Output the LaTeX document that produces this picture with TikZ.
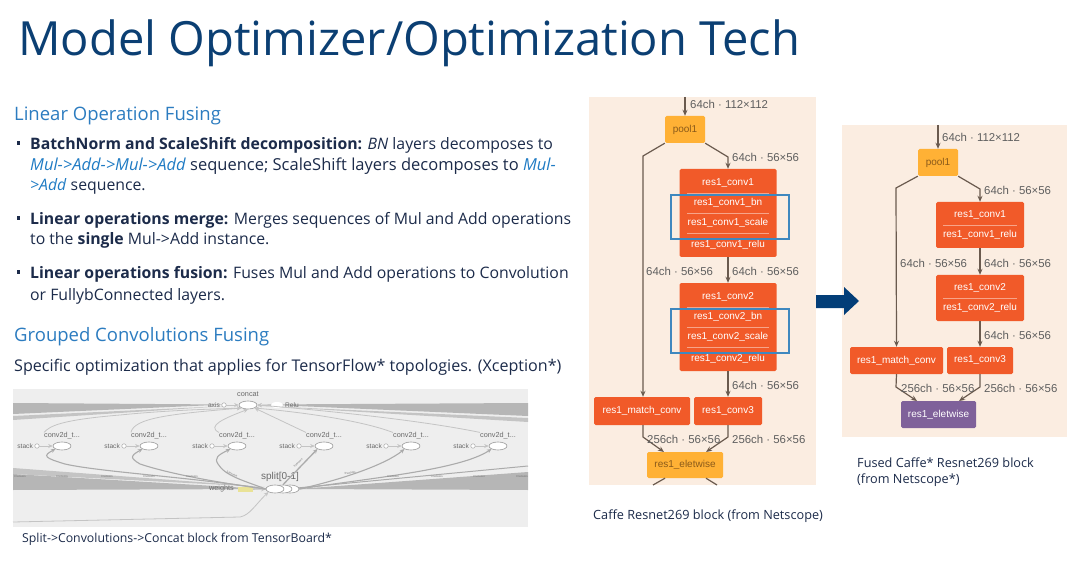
\documentclass[tikz,border=0pt]{standalone}
\usepackage{fontspec}
\setmainfont{Open Sans}
\newfontfamily\chartfont{Liberation Sans}
\usetikzlibrary{shapes.geometric, arrows.meta}
\tikzset{
    bodyText/.style={anchor=base west, inner sep=0pt, text=bodyColour, font=\fontsize{15.8}{18}\selectfont},
    headText/.style={anchor=base west, inner sep=0pt, text=headColour, font=\fontsize{18.5}{20}\selectfont},
    capText/.style={anchor=base west, inner sep=0pt, text=bodyColour, font=\fontsize{12.7}{14}\selectfont},
    bulletMark/.style={fill=bodyColour, inner sep=0pt, minimum size=3.5pt},
    redBlock/.style={rectangle, rounded corners=1.5pt, fill=redColour, inner sep=0pt},
    amberBlock/.style={rectangle, rounded corners=1.5pt, fill=amberColour, inner sep=0pt},
    purpleBlock/.style={rectangle, rounded corners=1.5pt, fill=purpleColour, inner sep=0pt},
    blockText/.style={inner sep=0pt, text=white, font=\chartfont\fontsize{10}{12}\selectfont},
    darkText/.style={inner sep=0pt, text=amberTextColour, font=\chartfont\fontsize{10}{12}\selectfont},
    edgeText/.style={anchor=west, inner sep=0pt, text=edgeTextColour, font=\chartfont\fontsize{11.4}{13}\selectfont},
    flow/.style={draw=flowColour, line width=1.2pt, ->, >={Stealth[length=6pt,width=5pt]}},
    flowEnd/.style={draw=flowColour, line width=1.2pt},
    divider/.style={draw=white!45!redColour, line width=0.5pt},
    blueBox/.style={draw=boxColour, line width=1.1pt, fill=none},
    tfOval/.style={ellipse, draw=tfLine, fill=white, line width=0.6pt, inner sep=0pt, minimum width=18pt, minimum height=8pt},
    tfDot/.style={circle, draw=tfLine, fill=white, line width=0.4pt, inner sep=0pt, minimum size=4.5pt},
    tfText/.style={inner sep=0pt, text=tfText, font=\chartfont\fontsize{7.3}{8}\selectfont},
    tfSide/.style={inner sep=0pt, text=tfText, font=\chartfont\fontsize{6.6}{8}\selectfont},
    tfSmall/.style={inner sep=0pt, text=tfText, font=\chartfont\fontsize{2.8}{3}\selectfont},
    tfCurve/.style={draw=tfCurveColour, line width=1.1pt, ->, >={Stealth[length=4.5pt,width=4pt]}},
    tfThin/.style={draw=tfThinColour, line width=0.8pt, ->, >={Stealth[length=4.5pt,width=4pt]}},
}
\begin{document}
\begin{tikzpicture}[x=1pt, y=-1pt]
    % Define colours
    \definecolor{titleColour}{HTML}{0B3F73}
    \definecolor{bodyColour}{HTML}{1C2B4A}
    \definecolor{headColour}{HTML}{2C7CC0}
    \definecolor{mulColour}{HTML}{1F7BC4}
    \definecolor{panelColour}{HTML}{FBEDE1}
    \definecolor{redColour}{HTML}{F15A29}
    \definecolor{amberColour}{HTML}{FFB135}
    \definecolor{amberTextColour}{HTML}{8A5A1A}
    \definecolor{purpleColour}{HTML}{7F619A}
    \definecolor{flowColour}{HTML}{6A5A4E}
    \definecolor{edgeTextColour}{HTML}{5F5F5F}
    \definecolor{boxColour}{HTML}{3F88BF}
    \definecolor{arrowColour}{HTML}{033E78}
    \definecolor{tfBack}{HTML}{EEEEEE}
    \definecolor{tfBand}{HTML}{B6B6B6}
    \definecolor{tfLine}{HTML}{9A9A9A}
    \definecolor{tfText}{HTML}{6A6A6A}
    \definecolor{tfCurveColour}{HTML}{ABABAB}
    \definecolor{tfThinColour}{HTML}{C4C4C4}
    \definecolor{tfYellow}{HTML}{E9E296}

    % Fix page size
    \useasboundingbox[fill=white] (0,0) rectangle (1081,561);

    % Title
    \node[anchor=base west, inner sep=0pt, text=titleColour, font=\fontsize{47.1}{52}\selectfont] (title) at (18,56) {Model Optimizer/Optimization Tech};

    % Left column text
    \node[headText] (headFusing) at (14,120.5) {Linear Operation Fusing};
    \foreach \y in {143,218,272}
        \node[bulletMark] at (18.5,\y) {};
    \node[bodyText] (lineA) at (30,150) {\textbf{BatchNorm and ScaleShift decomposition:} \textit{BN} layers decomposes to};
    \node[bodyText, font=\fontsize{16.5}{18}\selectfont] (lineB) at (30,171) {\textcolor{mulColour}{\textit{Mul->Add->Mul->Add}} sequence; ScaleShift layers decomposes to \textcolor{mulColour}{\textit{Mul-}}};
    \node[bodyText] (lineC) at (30,191) {\textcolor{mulColour}{\textit{>Add}} sequence.};
    \node[bodyText] (lineD) at (30,225) {\textbf{Linear operations merge:} Merges sequences of Mul and Add operations};
    \node[bodyText] (lineE) at (30,245) {to the \textbf{single} Mul->Add instance.};
    \node[bodyText] (lineF) at (30,279) {\textbf{Linear operations fusion:} Fuses Mul and Add operations to Convolution};
    \node[bodyText] (lineG) at (30,300) {or FullybConnected layers.};
    \node[headText] (headGrouped) at (14,341) {Grouped Convolutions Fusing};
    \node[bodyText, font=\fontsize{16.1}{18}\selectfont] (lineH) at (14,371) {Specific optimization that applies for TensorFlow* topologies. (Xception*)};

    % TensorBoard inset
    \fill[tfBack] (13,389) rectangle (528,527);
    \fill[tfBand] (13,403) -- (226,404.5) -- (13,414) -- cycle;
    \fill[tfBand] (262,404.5) -- (528,403) -- (528,416) -- cycle;
    \fill[tfThinColour] (13,416) -- (226,406) -- (13,420) -- cycle;
    \fill[tfThinColour] (262,406) -- (528,418) -- (528,422) -- cycle;
    \fill[tfBand] (13,474) -- (265,489) -- (13,490) -- cycle;
    \fill[tfThinColour] (13,468) -- (265,487) -- (13,474) -- cycle;
    \fill[tfBand] (297,489) -- (528,472) -- (528,490) -- cycle;
    \draw[tfCurveColour, line width=1pt] (297,488) -- (528,466);

    % TensorBoard nodes
    \node[tfOval] (concat) at (248,405) {};
    \node[tfText] (concatLabel) at (248,394) {concat};
    \node[tfDot] (axis) at (224,405) {};
    \node[tfSide, anchor=east] (axisLabel) at (220,405) {axis};
    \node[tfOval, minimum width=12pt, minimum height=6pt, draw=none] (relu) at (277,405) {};
    \node[tfSide, anchor=west] (reluLabel) at (285,405) {Relu};
    \node[tfOval] (splitC) at (290,489) {};
    \node[tfOval] (splitB) at (283,489) {};
    \node[tfOval] (split) at (275,489) {};
    \node[tfText, font=\chartfont\fontsize{10}{11}\selectfont] (splitLabel) at (280,477) {split[0-1]};
    \node[rectangle, fill=tfYellow, inner sep=0pt, minimum width=15pt, minimum height=5pt] (weights) at (245.5,489.5) {};
    \node[tfText, anchor=east] (weightsLabel) at (234,489) {weights};
    \foreach \n/\x in {a/62,b/149,c/237,d/324,e/411,f/498} {
        \node[tfOval] (conv\n) at (\x,446) {};
        \node[tfText] (convLabel\n) at (\x,436) {conv2d\_t...};
        \node[tfDot] (stack\n) at (\x-25,446) {};
        \node[tfSide, anchor=east] (stackLabel\n) at (\x-29,446) {stack};
        \draw[tfThin] (stack\n) -- (conv\n);
    }
    \coordinate (inputEnd) at (13,522);
    \draw[tfThin] (axis) -- (concat);
    \draw[tfThin] (relu) -- (concat);
    \draw[tfThin] (weights) -- (split);

    % TensorBoard edges
    \draw[tfCurve] (split.west) .. controls (190,477) and (100,472) .. (65,464) .. controls (45,458) and (42,456) .. (conva.south west);
    \draw[tfCurve] (split.west) .. controls (220,483) and (170,474) .. (140,464) .. controls (130,458) and (130,456) .. (convb.south west);
    \draw[tfCurve] (split.west) .. controls (245,481) and (225,476) .. (218,464) .. controls (214,458) and (218,455) .. (convc.south west);
    \draw[tfCurve, line width=1.3pt] (splitB.north) -- (convd.south west);
    \draw[tfCurve] (splitC.east) .. controls (340,480) and (385,465) .. (conve.south west);
    \draw[tfCurve] (splitC.east) .. controls (370,478) and (460,470) .. (convf.south west);
    \draw[tfThin] (convLabela.north west) .. controls (50,426) and (60,420) .. (120,415) .. controls (170,410) and (215,409) .. (concat.south west);
    \draw[tfThin] (convLabelb.north west) .. controls (134,418) and (170,414) .. (concat.south west);
    \draw[tfThin] (convLabelc.north west) .. controls (206,426) and (225,418) .. (concat.south);
    \draw[tfThin] (convLabeld.north west) -- (concat.south east);
    \draw[tfThin] (convLabele.north west) .. controls (360,420) and (300,412) .. (concat.south east);
    \draw[tfThin] (convLabelf.north west) .. controls (420,420) and (320,410) .. (concat.east);
    \draw[tfThin] (inputEnd) -- (240,517) .. controls (250,515) and (255,505) .. (split.south west);

    % Small edge labels
    \foreach \x in {20,62,107,149,192,393,437,479,522}
        \node[tfSmall] at (\x,477) {3 tensors};
    \node[tfSmall, rotate=-25] at (232,474) {3 tensors};
    \node[tfSmall, rotate=10] at (350,473) {3 tensors};
    \node[tfSmall, rotate=45] at (298,463) {3 tensors};

    % Inset caption
    \node[capText, font=\fontsize{12.3}{14}\selectfont] (capSplit) at (22,542) {Split->Convolutions->Concat block from TensorBoard*};

    % Left chart
    \fill[panelColour] (589,97) rectangle (816,485);
    \coordinate (lTop) at (685,97);
    \node[amberBlock, minimum width=40pt, minimum height=27pt] (lPool) at (685,129.5) {};
    \node[darkText] (lPoolText) at (lPool) {pool1};
    \node[redBlock, minimum width=97pt, minimum height=88pt] (lConvA) at (728,213) {};
    \node[redBlock, minimum width=97pt, minimum height=88pt] (lConvB) at (728,327) {};
    \foreach \n/\m/\y in {A/conv1/183,B/conv2/297} {
        \node[blockText] at (728,\y) {res1\_\m};
        \node[blockText] at (728,\y+20) {res1\_\m\_bn};
        \node[blockText] at (728,\y+40) {res1\_\m\_scale};
        \node[blockText] at (728,\y+61.5) {res1\_\m\_relu};
        \foreach \d in {10,30,50}
            \draw[divider] (687,\y+\d) -- (769,\y+\d);
        \draw[blueBox] (671,\y+12) rectangle (789,\y+56);
    }
    \node[redBlock, minimum width=96pt, minimum height=28pt] (lMatch) at (642,411) {};
    \node[blockText] at (lMatch) {res1\_match\_conv};
    \node[redBlock, minimum width=68pt, minimum height=28pt] (lConvC) at (728,411) {};
    \node[blockText] at (lConvC) {res1\_conv3};
    \node[amberBlock, minimum width=76pt, minimum height=26pt] (lElt) at (685,465) {};
    \node[darkText] at (lElt) {res1\_eletwise};
    \coordinate (lOutA) at (653,485);
    \coordinate (lOutB) at (717,485);

    % Left chart connectors
    \draw[flow] (lTop) -- (lPool);
    \draw[flow] (lPool.south east) -- (728,157) -- (lConvA.north);
    \draw[flow] (lPool.south west) -- (643,156) -- (lMatch.north -| 643,0);
    \draw[flow] (lConvA.south) -- (lConvB.north);
    \draw[flow] (lConvB.south) -- (lConvC.north);
    \draw[flow] (lMatch.south -| 643,0) -- (643,437) -- (664,452);
    \draw[flow] (lConvC.south) -- (728,437) -- (706,452);
    \draw[flowEnd] (lElt.south west -| 665,0) -- (lOutA);
    \draw[flowEnd] (lElt.south east -| 706,0) -- (lOutB);

    % Left chart labels
    \node[edgeText] at (690,104) {64ch · 112×112};
    \node[edgeText] at (732,157) {64ch · 56×56};
    \node[edgeText] at (646,271) {64ch · 56×56};
    \node[edgeText] at (732,271) {64ch · 56×56};
    \node[edgeText] at (732,385) {64ch · 56×56};
    \node[edgeText] at (647,439) {256ch · 56×56};
    \node[edgeText] at (732,439) {256ch · 56×56};
    \node[capText] (capCaffe) at (593,519) {Caffe Resnet269 block (from Netscope)};

    % Right chart
    \fill[panelColour] (842,125) rectangle (1067,437);
    \coordinate (rTop) at (938,125);
    \node[amberBlock, minimum width=40pt, minimum height=27pt] (rPool) at (938,162.5) {};
    \node[darkText] at (rPool) {pool1};
    \node[redBlock, minimum width=88pt, minimum height=46pt] (rConvA) at (980,225) {};
    \node[redBlock, minimum width=88pt, minimum height=46pt] (rConvB) at (980,298) {};
    \foreach \m/\y in {conv1/215,conv2/288} {
        \node[blockText] at (980,\y) {res1\_\m};
        \node[blockText] at (980,\y+20) {res1\_\m\_relu};
        \draw[divider] (943,\y+10) -- (1017,\y+10);
    }
    \node[redBlock, minimum width=93pt, minimum height=27pt] (rMatch) at (896.5,360.5) {};
    \node[blockText] at (rMatch) {res1\_match\_conv};
    \node[redBlock, minimum width=66pt, minimum height=27pt] (rConvC) at (980,360.5) {};
    \node[blockText] at (rConvC) {res1\_conv3};
    \node[purpleBlock, minimum width=75pt, minimum height=27pt] (rElt) at (938.5,414.5) {};
    \node[blockText] at (rElt) {res1\_eletwise};

    % Right chart connectors
    \draw[flow] (rTop) -- (rPool);
    \draw[flow] (rPool.south east) -- (980,189) -- (rConvA.north);
    \draw[flow] (rPool.south west) -- (896,188) -- (rMatch.north);
    \draw[flow] (rConvA.south) -- (rConvB.north);
    \draw[flow] (rConvB.south) -- (rConvC.north);
    \draw[flow] (rMatch.south) -- (896,387) -- (917,401);
    \draw[flow] (rConvC.south) -- (980,387) -- (959,401);

    % Right chart labels
    \node[edgeText] at (942,137) {64ch · 112×112};
    \node[edgeText] at (984,190) {64ch · 56×56};
    \node[edgeText] at (900,263) {64ch · 56×56};
    \node[edgeText] at (984,263) {64ch · 56×56};
    \node[edgeText] at (984,335) {64ch · 56×56};
    \node[edgeText] at (901,388) {256ch · 56×56};
    \node[edgeText] at (984,388) {256ch · 56×56};
    \node[capText] (capFused) at (857,467) {Fused Caffe* Resnet269 block};
    \node[capText] (capFusedB) at (857,483) {(from Netscope*)};

    % Big arrow between charts
    \fill[arrowColour] (816,295) -- (844,295) -- (844,287) -- (859,301) -- (844,315) -- (844,308) -- (816,308) -- cycle;
\end{tikzpicture}
\end{document}
